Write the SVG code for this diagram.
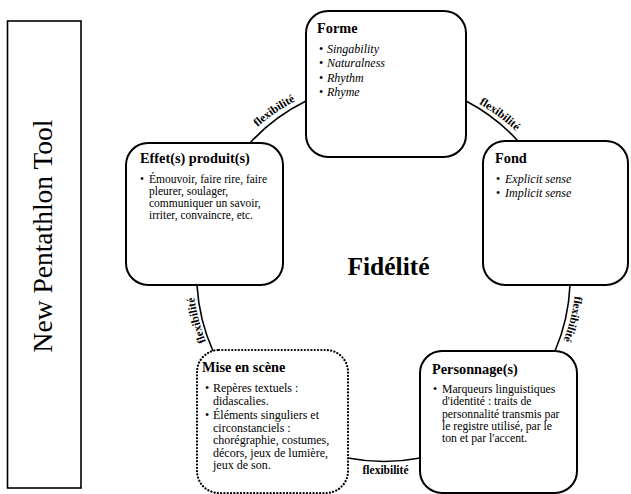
<svg xmlns="http://www.w3.org/2000/svg" width="631" height="494" viewBox="0 0 631 494">
<style>
  text { font-family: "Liberation Serif", "Times New Roman", serif; fill: #000; }
  .box { fill: #fff; stroke: #000; stroke-width: 2; }
  .dotted { fill: #fff; stroke: #000; stroke-width: 2.2; stroke-dasharray: 0.1 3.2; stroke-linecap: round; }
  .title { font-size: 14.3px; font-weight: bold; }
  .body { font-size: 12px; }
  .eff { font-size: 11.5px; }
  .per { font-size: 11.7px; }
  .it { font-style: italic; }
  .conn { fill: none; stroke: #000; stroke-width: 1.6; }
  .flex { font-size: 11.5px; font-weight: bold; }
</style>
<defs>
  <path id="ring" d="M 384.5 463 A 192 192 0 1 1 384.5 79 A 192 192 0 1 1 384.5 463"/>
</defs>
<rect width="631" height="494" fill="#fff"/>

<g id="side">
  <rect x="7.5" y="21" width="73.5" height="467" fill="#fff" stroke="#000" stroke-width="1.6"/>
  <text x="52" y="236" font-size="27.5" text-anchor="middle" transform="rotate(-90 52 236)">New Pentathlon Tool</text>
</g>

<g id="connectors">
  <path class="conn" d="M 250 143 A 188 188 0 0 1 306 101"/>
  <path class="conn" d="M 466 101 A 188 188 0 0 1 518 141"/>
  <path class="conn" d="M 570 285 A 188 188 0 0 1 555 351"/>
  <path class="conn" d="M 420 458 A 188 188 0 0 1 348 458"/>
  <path class="conn" d="M 213 351 A 188 188 0 0 1 197 285"/>
  <text class="flex" text-anchor="middle"><textPath href="#ring" startOffset="20.9%">flexibilité</textPath></text>
  <text class="flex" text-anchor="middle"><textPath href="#ring" startOffset="40.4%">flexibilité</textPath></text>
  <text class="flex" text-anchor="middle"><textPath href="#ring" startOffset="60.1%">flexibilité</textPath></text>
  <text class="flex" text-anchor="middle"><textPath href="#ring" startOffset="79.0%">flexibilité</textPath></text>
  <text class="flex" x="385.5" y="474" text-anchor="middle">flexibilité</text>
</g>

<g id="center">
  <text x="388.5" y="275" font-size="25.5" font-weight="bold" text-anchor="middle">Fidélité</text>
</g>

<g id="forme">
  <rect class="box" x="306" y="11" width="160" height="146" rx="22"/>
  <text class="title" x="317" y="33">Forme</text>
  <text class="body" x="319" y="53">•</text><text class="body it" x="327" y="53">Singability</text>
  <text class="body" x="319" y="67">•</text><text class="body it" x="327" y="67">Naturalness</text>
  <text class="body" x="319" y="81.5">•</text><text class="body it" x="327" y="81.5">Rhythm</text>
  <text class="body" x="319" y="96">•</text><text class="body it" x="327" y="96">Rhyme</text>
</g>

<g id="fond">
  <rect class="box" x="483" y="141" width="145" height="144" rx="22"/>
  <text class="title" x="495" y="163">Fond</text>
  <text class="body" x="496" y="183">•</text><text class="body it" x="505" y="183">Explicit sense</text>
  <text class="body" x="496" y="197">•</text><text class="body it" x="505" y="197">Implicit sense</text>
</g>

<g id="effets">
  <rect class="box" x="126" y="143" width="157" height="142" rx="22"/>
  <text class="title" x="140" y="163">Effet(s) produit(s)</text>
  <text class="eff" x="140" y="182.5">•</text>
  <text class="eff" x="149" y="182.5">Émouvoir, faire rire, faire</text>
  <text class="eff" x="149" y="194.5">pleurer, soulager,</text>
  <text class="eff" x="149" y="206.5">communiquer un savoir,</text>
  <text class="eff" x="149" y="218.5">irriter, convaincre, etc.</text>
</g>

<g id="mise">
  <rect class="dotted" x="197" y="350" width="151" height="143" rx="22"/>
  <text class="title" x="202" y="372">Mise en scène</text>
  <text class="body" x="205" y="392">•</text>
  <text class="body" x="213" y="392">Repères textuels :</text>
  <text class="body" x="213" y="404.5">didascalies.</text>
  <text class="body" x="205" y="419">•</text>
  <text class="body" x="213" y="419">Éléments singuliers et</text>
  <text class="body" x="213" y="431.5">circonstanciels :</text>
  <text class="body" x="213" y="444">chorégraphie, costumes,</text>
  <text class="body" x="213" y="456.5">décors, jeux de lumière,</text>
  <text class="body" x="213" y="469">jeux de son.</text>
</g>

<g id="personnage">
  <rect class="box" x="420" y="351" width="157" height="142" rx="22"/>
  <text class="title" x="432" y="374">Personnage(s)</text>
  <text class="per" x="433" y="393">•</text>
  <text class="per" x="442" y="393">Marqueurs linguistiques</text>
  <text class="per" x="442" y="405.3">d'identité : traits de</text>
  <text class="per" x="442" y="417.6">personnalité transmis par</text>
  <text class="per" x="442" y="429.9">le registre utilisé, par le</text>
  <text class="per" x="442" y="442.2">ton et par l'accent.</text>
</g>
</svg>
